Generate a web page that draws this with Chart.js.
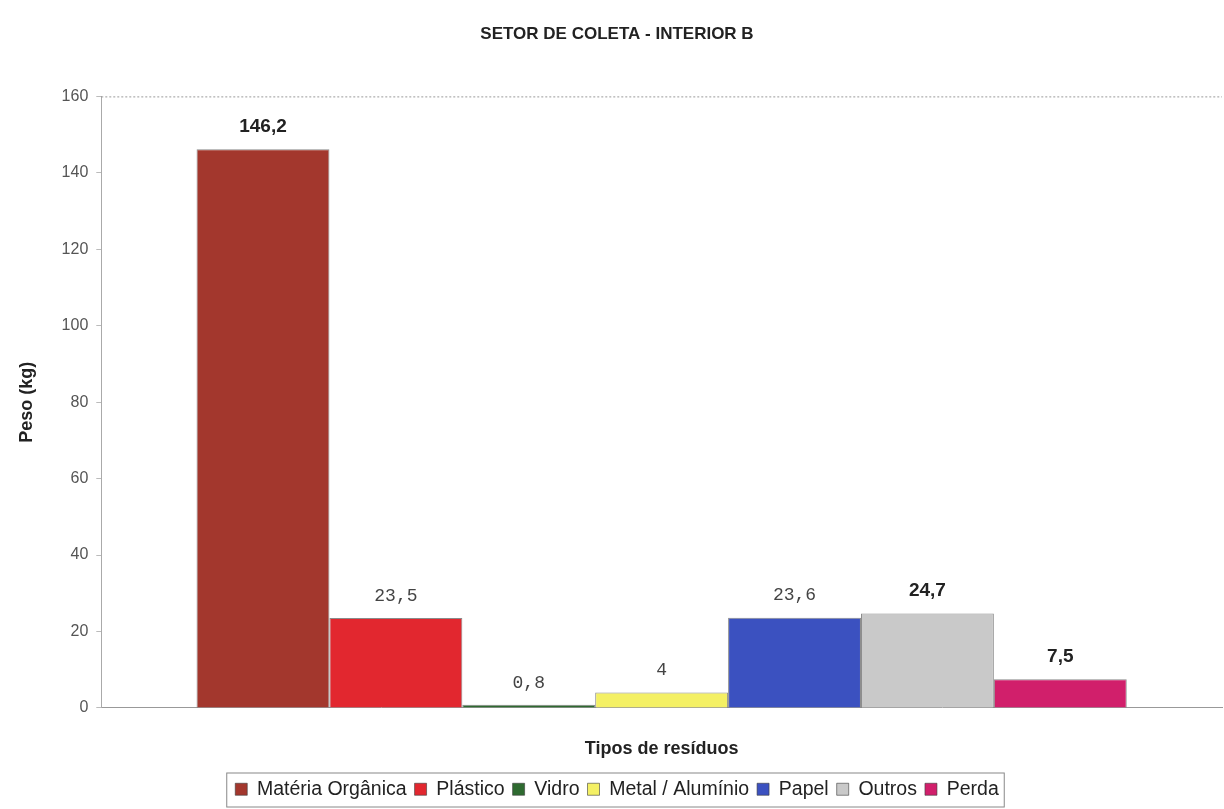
<!DOCTYPE html>
<html>
<head>
<meta charset="utf-8">
<script src="https://cdn.jsdelivr.net/npm/chart.js@4/dist/chart.umd.min.js"></script>
<style>
  html, body { margin: 0; padding: 0; background: #fff; }
  #wrap { width: 1224px; height: 809px; }
</style>
</head>
<body>
<div id="wrap"><canvas id="residuosChart"></canvas></div>
<script>
// Data
const categories = [""];
const seriesNames = ["Matéria Orgânica", "Plástico", "Vidro", "Metal / Alumínio", "Papel", "Outros", "Perda"];
const seriesValues = [146.2, 23.5, 0.8, 4, 23.6, 24.7, 7.5];
const seriesColors = ["#a3372d", "#e2272f", "#2e6a30", "#f4f064", "#3b51c0", "#c9c9c9", "#d11f6b"];
const labelBold = [true, false, false, false, false, true, true];
const yTicks = [0, 20, 40, 60, 80, 100, 120, 140, 160];

// value labels above each bar
const valueLabels = {
    id: "valueLabels",
    afterDatasetsDraw(chart) {
        const ctx = chart.ctx;
        ctx.save();
        ctx.textAlign = "center";
        ctx.textBaseline = "bottom";
        chart.data.datasets.forEach(function (ds, i) {
            const bar = chart.getDatasetMeta(i).data[0];
            const txt = String(ds.data[0]).replace(".", ",");
            if (labelBold[i]) {
                ctx.font = "bold 19px 'Liberation Sans', Arial, sans-serif";
                ctx.fillStyle = "#222";
            } else {
                ctx.font = "18px 'Liberation Mono', 'DejaVu Sans Mono', monospace";
                ctx.fillStyle = "#444";
            }
            ctx.fillText(txt, bar.x, bar.y - 13);
        });
        ctx.restore();
    }
};

// box round the legend
const legendBox = {
    id: "legendBox",
    afterDraw(chart) {
        const lg = chart.legend;
        const items = lg.legendHitBoxes;
        if (!items.length) return;
        const first = items[0];
        const last = items[items.length - 1];
        const ctx = chart.ctx;
        ctx.save();
        ctx.strokeStyle = "#888";
        ctx.lineWidth = 1;
        ctx.strokeRect(first.left - 8.5, first.top - 6.5, last.left + last.width - first.left + 14, 34);
        ctx.restore();
    }
};

new Chart(document.getElementById("residuosChart").getContext("2d"), {
    type: "bar",
    data: {
        labels: categories,
        datasets: seriesNames.map(function (name, i) {
            return {
                label: name,
                data: [seriesValues[i]],
                backgroundColor: seriesColors[i],
                borderColor: "rgba(60,60,60,0.6)",
                borderWidth: 1
            };
        })
    },
    options: {
        responsive: true,
        maintainAspectRatio: false,
        animation: false,
        layout: { padding: { left: 12, right: 2, top: 0, bottom: 0 } },
        datasets: { bar: { categoryPercentage: 0.83, barPercentage: 1.0 } },
        plugins: {
            title: {
                display: true,
                text: "SETOR DE COLETA - INTERIOR B",
                color: "#222",
                font: { family: "'Liberation Sans', Arial, sans-serif", size: 17, weight: "bold" },
                padding: { top: 24, bottom: 52 }
            },
            legend: {
                position: "bottom",
                labels: {
                    color: "#222",
                    boxWidth: 12,
                    boxHeight: 12,
                    padding: 8,
                    font: { family: "'Liberation Sans', Arial, sans-serif", size: 19.5 }
                }
            },
            tooltip: { enabled: false }
        },
        scales: {
            x: {
                ticks: { display: false },
                grid: { display: false },
                border: { color: "#999", dash: [2, 2] },
                title: {
                    display: true,
                    text: "Tipos de resíduos",
                    color: "#222",
                    font: { family: "'Liberation Sans', Arial, sans-serif", size: 18, weight: "bold" },
                    padding: { top: 22, bottom: 12 }
                }
            },
            y: {
                min: 0,
                max: 160,
                afterBuildTicks: function (axis) {
                    axis.ticks = yTicks.map(function (v) { return { value: v }; });
                },
                ticks: {
                    color: "#555",
                    padding: 8,
                    font: { family: "'Liberation Sans', Arial, sans-serif", size: 16 }
                },
                grid: {
                    drawOnChartArea: false,
                    drawTicks: true,
                    tickLength: 5,
                    color: "#bbb"
                },
                border: { color: "#aaa" },
                title: {
                    display: true,
                    text: "Peso (kg)",
                    color: "#222",
                    font: { family: "'Liberation Sans', Arial, sans-serif", size: 18, weight: "bold" },
                    padding: { bottom: 16 }
                }
            }
        }
    },
    plugins: [valueLabels, legendBox, {
        id: "topLine",
        afterDraw(chart) {
            const a = chart.chartArea;
            const ctx = chart.ctx;
            ctx.save();
            ctx.strokeStyle = "#999";
            ctx.setLineDash([2, 2]);
            ctx.beginPath();
            ctx.moveTo(a.left, a.top + 0.5);
            ctx.lineTo(a.right, a.top + 0.5);
            ctx.stroke();
            ctx.restore();
        }
    }]
});
</script>
</body>
</html>
